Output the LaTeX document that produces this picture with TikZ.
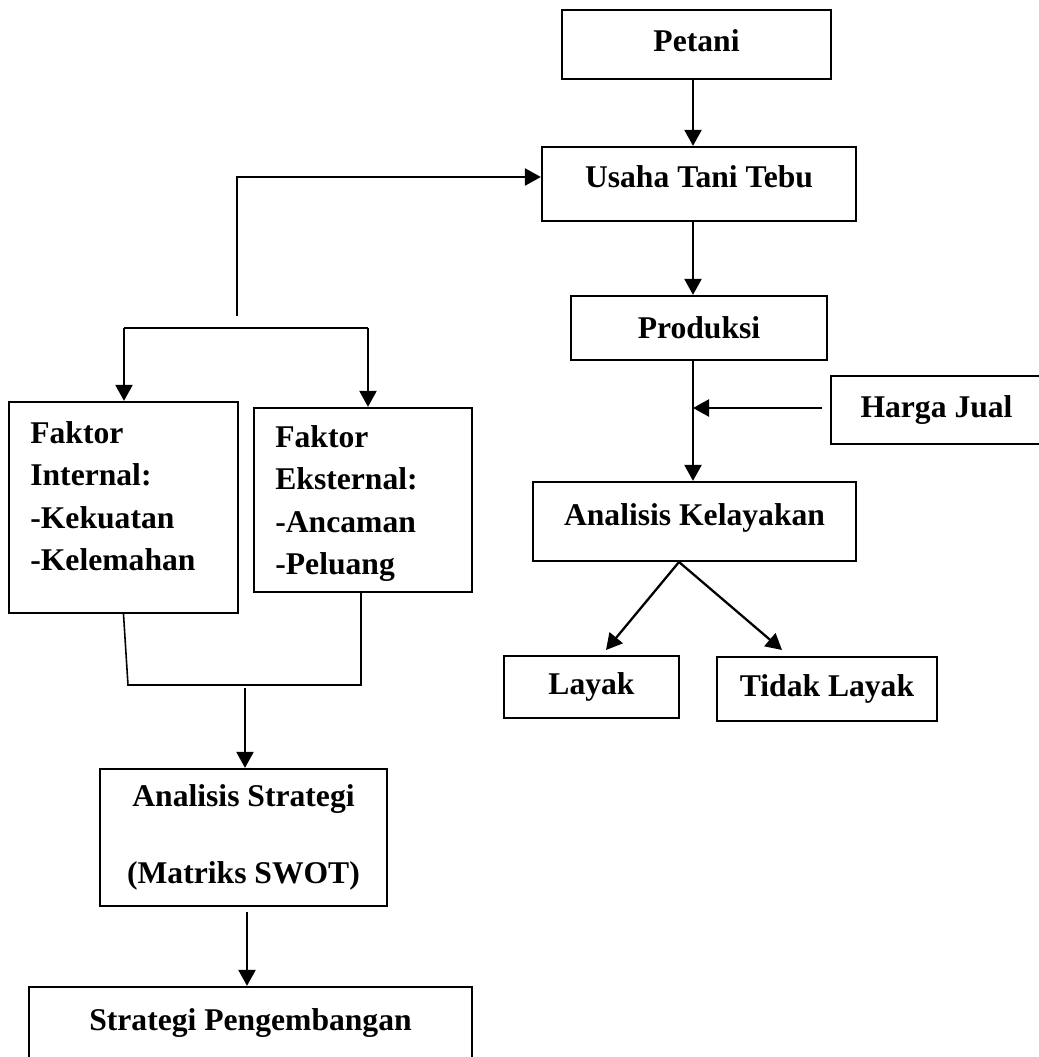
\documentclass[tikz,border=0pt]{standalone}
\usepackage{fontspec}
\setmainfont{Liberation Serif}
\usetikzlibrary{arrows.meta}

\tikzset{
	kotak/.style={draw, line width=1.3pt, inner sep=0pt, align=center, font=\bfseries\fontsize{18}{24}\selectfont},
	teks/.style={inner sep=0pt, align=left, font=\bfseries\fontsize{18}{24}\selectfont},
	panah/.style={line width=1.3pt, -{Triangle[width=0.34cm,length=0.32cm]}},
	garis/.style={line width=0.9pt}
}

\begin{document}
\begin{tikzpicture}[x=0.02cm, y=-0.02cm]
	
	\fill[white] (0,0) rectangle (1038,1057);
	\useasboundingbox (0,0) rectangle (1038,1057);
	
	% kolom kanan
	\node[kotak, minimum width=5.38cm, minimum height=1.38cm] (petani) at (696.5,44.5) {\raisebox{0.16cm}{Petani}};
	\node[kotak, minimum width=6.28cm, minimum height=1.48cm] (usaha) at (699,184) {\raisebox{0.31cm}{Usaha Tani Tebu}};
	\node[kotak, minimum width=5.12cm, minimum height=1.28cm] (produksi) at (699,328) {Produksi};
	\node[kotak, minimum width=4.38cm, minimum height=1.36cm] (harga) at (940.5,410) {\hspace*{-0.16cm}Harga Jual};
	\node[kotak, minimum width=6.46cm, minimum height=1.58cm] (kelayakan) at (694.5,521.5) {\raisebox{0.28cm}{Analisis Kelayakan}};
	\node[kotak, minimum width=3.5cm, minimum height=1.24cm] (layak) at (591.5,687) {Layak};
	\node[kotak, minimum width=4.4cm, minimum height=1.28cm] (tidak) at (827,689) {Tidak Layak};
	
	% kolom kiri
	\node[kotak, minimum width=4.58cm, minimum height=4.22cm] (internal) at (123.5,507.5) {};
	\node[teks, anchor=north west] (internalteks) at (30,421.5) {Faktor\\Internal:\\-Kekuatan\\-Kelemahan};
	\node[kotak, minimum width=4.36cm, minimum height=3.68cm] (eksternal) at (363,500) {};
	\node[teks, anchor=north west] (eksternalteks) at (275,425.5) {Faktor\\Eksternal:\\-Ancaman\\-Peluang};
	\node[kotak, minimum width=5.74cm, minimum height=2.74cm, font=\bfseries\fontsize{18}{43.8}\selectfont] (strategi) at (243.5,837.5) {Analisis Strategi\\(Matriks SWOT)};
	\node[kotak, minimum width=8.86cm, minimum height=1.5cm] (pengembangan) at (250.5,1024.5) {\raisebox{0.2cm}{Strategi Pengembangan}};
	
	% alur kanan
	\coordinate (poros) at (693,0);
	\draw[panah] (petani.south -| poros) -- (usaha.north -| poros);
	\draw[panah] (usaha.south -| poros) -- (produksi.north -| poros);
	\draw[panah] (produksi.south -| poros) -- (kelayakan.north -| poros);
	\coordinate (masukharga) at (822,408);
	\draw[panah] (masukharga) -- (masukharga -| poros);
	
	\coordinate (pangkal) at (679,562);
	\coordinate (ujunglayak) at (606,650);
	\coordinate (ujungtidak) at (782,650);
	\draw[panah] (pangkal) -- (ujunglayak);
	\draw[panah] (pangkal) -- (ujungtidak);
	
	% alur kiri
	\coordinate (belok) at (237,316);
	\coordinate (atas) at (237,177);
	\draw[panah] (belok) -- (atas) -- (atas -| usaha.west);
	
	\coordinate (cabangkiri) at (124,328);
	\coordinate (cabangkanan) at (368,328);
	\draw[line width=1.3pt] (cabangkiri) -- (cabangkanan);
	\draw[panah] (cabangkiri) -- (cabangkiri |- internal.north);
	\draw[panah] (cabangkanan) -- (cabangkanan |- eksternal.north);
	
	\coordinate (gabungkiri) at (128,685);
	\coordinate (gabungkanan) at (361,685);
	\draw[garis] (internal.south) -- (gabungkiri) -- (gabungkanan) -- (gabungkanan |- eksternal.south);
	\coordinate (gabungtengah) at (245,688);
	\draw[panah] (gabungtengah) -- (gabungtengah |- strategi.north);
	
	\coordinate (turun) at (247,912);
	\draw[panah] (turun) -- (turun |- pengembangan.north);
	
\end{tikzpicture}
\end{document}
